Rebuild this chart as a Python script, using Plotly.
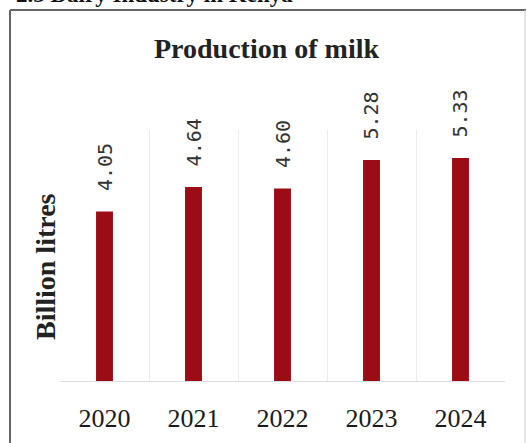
import plotly.graph_objects as go

years = ["2020", "2021", "2022", "2023", "2024"]
production = [4.05, 4.64, 4.60, 5.28, 5.33]
value_labels = ["4.05", "4.64", "4.60", "5.28", "5.33"]

W, H = 527, 443
ML, MR, MT, MB = 60, 22, 130, 62
PW, PH = W - ML - MR, H - MT - MB


def px_x(p):
    return (p - ML) / PW


def px_y(p):
    return (H - MB - p) / PH


fig = go.Figure(go.Bar(
    x=years, y=production, marker_color="#9c0c14", marker_line_width=0,
    showlegend=False,
))

for i, (v, lab) in enumerate(zip(production, value_labels)):
    fig.add_annotation(x=i, y=v, text=lab, textangle=-90, showarrow=False,
                       xanchor="center", yanchor="bottom", yshift=18,
                       font=dict(family="DejaVu Sans Mono", size=20, color="#333333"))

# chart title
fig.add_annotation(xref="paper", yref="paper", x=px_x(266), y=px_y(48),
                   text="<b>Production of milk</b>", showarrow=False,
                   xanchor="center", yanchor="middle",
                   font=dict(family="Liberation Serif", size=28, color="#222222"))
# axis title
fig.add_annotation(xref="paper", yref="paper", x=px_x(45), y=px_y(267),
                   text="<b>Billion litres</b>", textangle=-90, showarrow=False,
                   xanchor="center", yanchor="middle",
                   font=dict(family="Liberation Serif", size=28, color="#222222"))
# section heading, cut off at the top of the page as in the source
fig.add_annotation(xref="paper", yref="paper", x=px_x(14), y=px_y(9),
                   text="<b>2.3 Dairy Industry in Kenya</b>", showarrow=False,
                   xanchor="left", yanchor="bottom",
                   font=dict(family="Liberation Serif", size=23, color="#111111"))

# frame
fig.add_shape(type="line", xref="paper", yref="paper", x0=px_x(10), x1=px_x(526),
              y0=px_y(10), y1=px_y(10), line=dict(color="#666666", width=2))
fig.add_shape(type="line", xref="paper", yref="paper", x0=px_x(10), x1=px_x(10),
              y0=px_y(10), y1=px_y(445), line=dict(color="#666666", width=2))
fig.add_shape(type="line", xref="paper", yref="paper", x0=px_x(525), x1=px_x(525),
              y0=px_y(10), y1=px_y(445), line=dict(color="#cccccc", width=1))

fig.update_layout(
    width=W, height=H,
    margin=dict(l=ML, r=MR, t=MT, b=MB),
    paper_bgcolor="white", plot_bgcolor="white",
    bargap=0.81,
    xaxis=dict(type="category", tickson="boundaries", showgrid=True,
               gridcolor="#ebebf0", gridwidth=1, showline=True,
               linecolor="#dcdce6", linewidth=1, ticks="",
               ticklabelstandoff=14, automargin=False, tickangle=0,
               tickfont=dict(family="Liberation Serif", size=26, color="#1a1a1a")),
    yaxis=dict(range=[0, 6], showgrid=False, showticklabels=False,
               zeroline=False, showline=False, automargin=False),
)

fig.write_html("out.html")
